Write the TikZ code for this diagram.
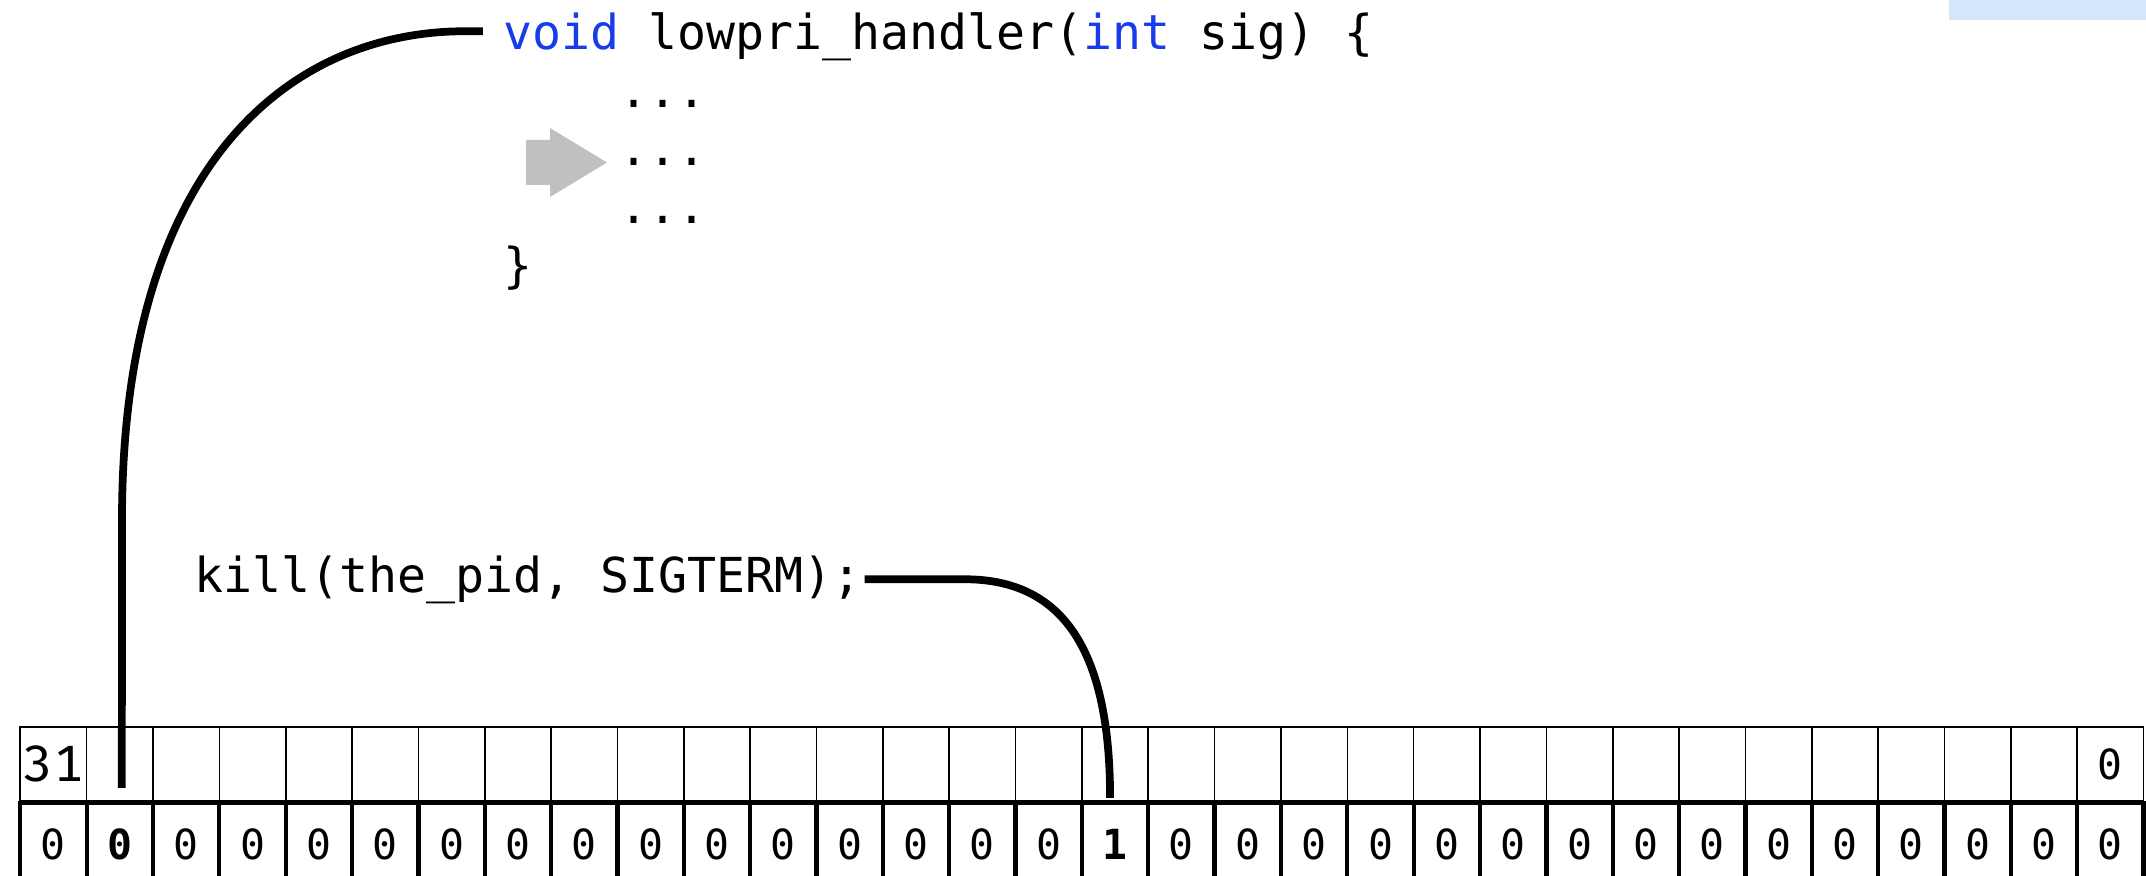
\documentclass[tikz,border=0pt]{standalone}
\usepackage{fontspec}
\usepackage{xcolor}
\usepackage{tikz}
\newfontfamily\codefont{DejaVu Sans Mono}
\newfontfamily\numfont{Fira Sans}[Numbers=Monospaced, LetterSpace=6]

\definecolor{kwblue}{RGB}{25,60,235}
\definecolor{pcgray}{RGB}{192,192,192}
\definecolor{tabblue}{RGB}{212,230,250}

% bit 30 and bit 15 are the ones we point at
\newcommand{\bitval}[1]{\ifnum#1=1 \textbf{0}\else\ifnum#1=16 \textbf{1}\else 0\fi\fi}

\tikzset{
  code/.style={font=\codefont\fontsize{13.7}{16.5}\selectfont, inner sep=0pt, anchor=base west},
  wire/.style={line width=2.2pt},
  topcell/.style={draw, line width=0.45pt, minimum width=0.6635cm, minimum height=0.74cm, inner sep=0pt},
  bitcell/.style={draw, line width=1.2pt, minimum width=0.6635cm, minimum height=0.82cm, inner sep=0pt, anchor=north,
                  font=\codefont\fontsize{11.8}{14}\selectfont}
}

\begin{document}
\begin{tikzpicture}[x=0.01cm, y=-0.01cm]
\useasboundingbox (0,0) rectangle (2146,876);

 \fill[tabblue] (1949,0) rectangle (2146,20);

 % the handler
 \node[code] (hdr) at (503,50)
     {\textcolor{kwblue}{void} lowpri\_handler(\textcolor{kwblue}{int} sig) \{};
 \node[code] (body_1) at (503,108) {\phantom{void}...};
 \node[code] (body_2) at (503,166) {\phantom{void}...};
 \node[code] (body_3) at (503,224) {\phantom{void}...};
 \node[code] (close) at (503,282) {\}};

 % where we are in the handler
 \fill[pcgray] (526,140) -- (550,140) -- (550,128) -- (607,162.5)
     -- (550,197) -- (550,185) -- (526,185) -- cycle;

 \node[code] (kill) at (194,592) {kill(the\_pid, SIGTERM);};

 % pending bits
 \foreach \i in {0,...,31} {
   \pgfmathsetmacro\cx{20.3+(\i+0.5)*66.35}
   \node[topcell] (top_\i) at (\cx,764) {};
 }
 \foreach \i in {0,...,31} {
   \pgfmathsetmacro\cx{20.3+(\i+0.5)*66.35}
   \node[bitcell] (bit_\i) at (\cx,801) {\bitval{\i}};
 }

 \node[font=\numfont\fontsize{14.5}{16}\selectfont] (msb) at (top_0) {31};
 \node[font=\codefont\fontsize{11.8}{14}\selectfont] (lsb) at (top_31) {0};


 \draw [wire] ([xshift=-2mm,yshift=0.6mm]hdr.west) -- ++(-18,0)
     .. controls +(-172,0) and (122,160) .. (122,520)
     -- ([xshift=0.2mm,yshift=1.4mm]top_1.south);
 \draw [wire] ([xshift=0.2mm]kill.east) -- ++(100,0)
     .. controls +(92,0) and +(0,-157) .. ([xshift=-0.5mm,yshift=0.4mm]top_16.south);

\end{tikzpicture}
\end{document}
